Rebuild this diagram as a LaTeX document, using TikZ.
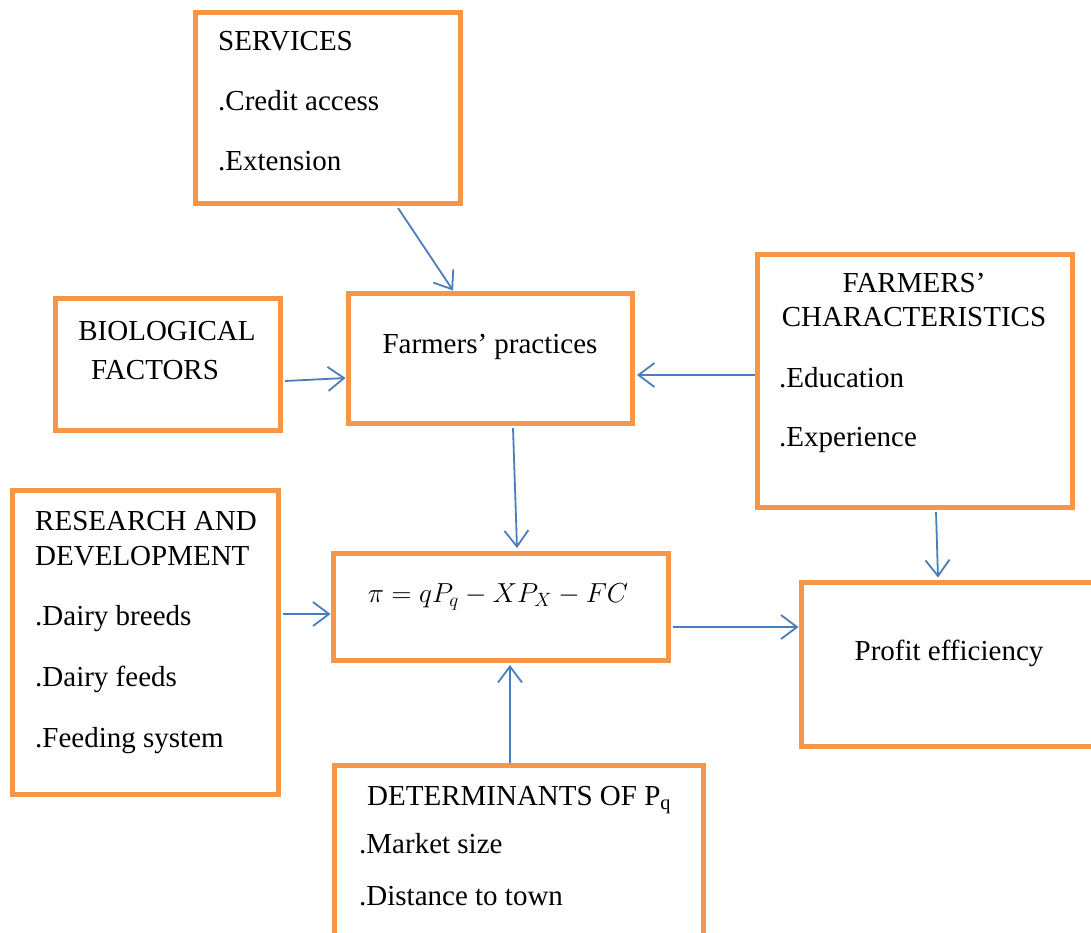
\RequirePackage{fix-cm}
\documentclass[tikz,border=0pt]{standalone}
\usepackage{fontspec}
\setmainfont{Liberation Serif}
\usetikzlibrary{arrows.meta}
\definecolor{boxorange}{HTML}{F79646}
\definecolor{arrowblue}{HTML}{4A7EBB}
\tikzset{
  box/.style={draw=boxorange, line width=5pt, rectangle, inner sep=0pt},
  txt/.style={inner sep=0pt, font=\fontsize{29}{33}\selectfont},
  mathtxt/.style={inner sep=0pt, font=\fontsize{27.5}{32}\selectfont},
  link/.style={draw=arrowblue, line width=1.8pt, -{Straight Barb[length=16pt,width=24pt]}}
}
\begin{document}
\begin{tikzpicture}[x=1pt,y=-1pt]
\useasboundingbox (0,0) rectangle (1091,932);
\clip (0,0) rectangle (1091,932);
% boxes
\node[box, minimum width=265pt, minimum height=191pt] (svc) at (327.5,107.5) {};
\node[box, minimum width=225pt, minimum height=132pt] (bio) at (167.5,364) {};
\node[box, minimum width=284pt, minimum height=130pt] (prac) at (490,358) {};
\node[box, minimum width=315pt, minimum height=253pt] (chr) at (914.5,380.5) {};
\node[box, minimum width=266pt, minimum height=304pt] (rd) at (145,642) {};
\node[box, minimum width=335pt, minimum height=107pt] (form) at (500.5,606.5) {};
\node[box, minimum width=299pt, minimum height=164pt] (prof) at (950.5,664) {};
\node[box, minimum width=369pt, minimum height=195pt] (det) at (518.5,862.5) {};
% texts
\node[txt, anchor=base west] (svc1) at (218,50) {SERVICES};
\node[txt, anchor=base west] (svc2) at (218,110) {.Credit access};
\node[txt, anchor=base west] (svc3) at (218,170) {.Extension};
\node[txt, anchor=base] (bio1) at (167,340) {BIOLOGICAL};
\node[txt, anchor=base] (bio2) at (155,379) {FACTORS};
\node[txt, anchor=base] (prac1) at (490,353) {Farmers’ practices};
\node[txt, anchor=base] (chr1) at (914,292) {FARMERS’};
\node[txt, anchor=base] (chr2) at (914,326) {CHARACTERISTICS};
\node[txt, anchor=base west] (chr3) at (779,387) {.Education};
\node[txt, anchor=base west] (chr4) at (779,446) {.Experience};
\node[txt, anchor=base west] (rd1) at (35,530) {RESEARCH AND};
\node[txt, anchor=base west] (rd2) at (35,565) {DEVELOPMENT};
\node[txt, anchor=base west] (rd3) at (35,625) {.Dairy breeds};
\node[txt, anchor=base west] (rd4) at (35,686) {.Dairy feeds};
\node[txt, anchor=base west] (rd5) at (35,747) {.Feeding system};
\node[mathtxt, anchor=base] (form1) at (498,602) {$\pi = qP_q - XP_X - FC$};
\node[txt, anchor=base] (prof1) at (949,660) {Profit efficiency};
\node[txt, anchor=base west] (det1) at (367,805) {DETERMINANTS OF P\textsubscript{q}};
\node[txt, anchor=base west] (det2) at (359,853) {.Market size};
\node[txt, anchor=base west] (det3) at (359,905) {.Distance to town};
% connectors
\draw[link] ([xshift=70.5pt,yshift=-2.5pt]svc.south) -- ([xshift=-37pt]prac.north);
\draw[link] ([yshift=-17pt,xshift=2.5pt]bio.east) -- ([yshift=-20pt]prac.west);
\draw[link] ([yshift=5.5pt]chr.west) -- ([yshift=-17pt,xshift=2.5pt]prac.east);
\draw[link] ([xshift=23pt,yshift=-2.5pt]prac.south) -- ([xshift=16.5pt,yshift=2.5pt]form.north);
\draw[link] ([yshift=28pt,xshift=2.5pt]rd.east) -- ([yshift=-7.5pt]form.west);
\draw[link] ([xshift=-8.5pt]det.north) -- ([xshift=9.5pt,yshift=-2.5pt]form.south);
\draw[link] ([yshift=-20.5pt,xshift=2.5pt]form.east) -- ([yshift=37pt]prof.west);
\draw[link] ([xshift=21.5pt,yshift=-2.5pt]chr.south) -- ([xshift=-12.5pt,yshift=2pt]prof.north);
\end{tikzpicture}
\end{document}
